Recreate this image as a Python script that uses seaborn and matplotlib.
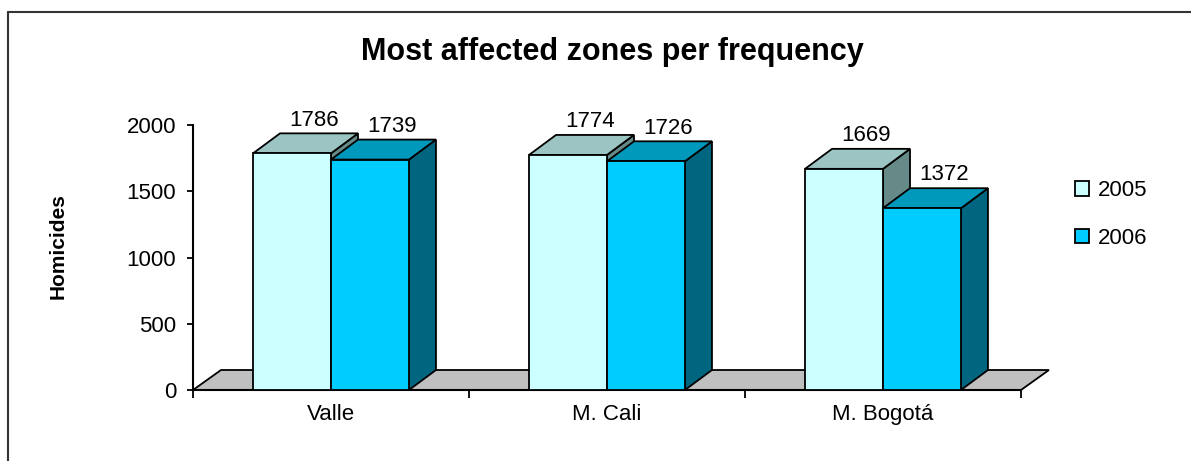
import matplotlib
matplotlib.use("Agg")
import matplotlib.pyplot as plt
import pandas as pd
import seaborn as sns
from matplotlib.patches import Polygon, Patch
from matplotlib.lines import Line2D

# ---------------- data ----------------
zones = ["Valle", "M. Cali", "M. Bogotá"]
years = ["2005", "2006"]
homicides_2005 = [1786, 1774, 1669]
homicides_2006 = [1739, 1726, 1372]
y_ticks = [0, 500, 1000, 1500, 2000]

front_colors = {"2005": "#CCFFFF", "2006": "#00CCFF"}
top_colors = {"2005": "#9BC4C2", "2006": "#0099BB"}
side_colors = {"2005": "#668A88", "2006": "#006680"}

df = pd.DataFrame({
    "zone": zones * 2,
    "year": [years[0]] * len(zones) + [years[1]] * len(zones),
    "homicides": homicides_2005 + homicides_2006,
})

sns.set_style("white")
plt.rcParams["font.family"] = ["Liberation Sans", "DejaVu Sans"]
for k in ["text.color", "xtick.color", "ytick.color", "axes.labelcolor"]:
    plt.rcParams[k] = "black"

W, H = 1191, 461
fig = plt.figure(figsize=(W / 100, H / 100), dpi=100)
ax_l, ax_r, ax_t, ax_b = 193, 1021, 125, 390
ax = fig.add_axes([ax_l / W, 1 - ax_b / H, (ax_r - ax_l) / W, (ax_b - ax_t) / H])

sns.barplot(data=df, x="zone", y="homicides", hue="year", palette=front_colors,
            width=0.565, edgecolor="black", linewidth=1.3, saturation=1,
            ax=ax, legend=False)

ax.set_xlim(-0.5, 2.5)
ax.set_ylim(0, 2000)
ax.patch.set_visible(False)

sx = (ax_r - ax_l) / 3.0        # px per x unit
sy = (ax_b - ax_t) / 2000.0     # px per y unit
LW = 1.3

# floor
fdx, fdy = 28 / sx, 20 / sy
floor = Polygon([(-0.5, 0), (2.5, 0), (2.5 + fdx, fdy), (-0.5 + fdx, fdy)],
                closed=True, fc="#C0C0C0", ec="black", lw=LW, zorder=1, clip_on=False)
ax.add_patch(floor)

# 3D faces
bdx, bdy = 27 / sx, 20 / sy
lab_dx = 22 / sx
for ci, cont in enumerate(ax.containers):
    yr = years[ci]
    for bar in cont:
        bar.set_zorder(3 + 2 * ci)
        bar.set_clip_on(False)
        x0, w, h = bar.get_x(), bar.get_width(), bar.get_height()
        top = Polygon([(x0, h), (x0 + w, h), (x0 + w + bdx, h + bdy), (x0 + bdx, h + bdy)],
                      closed=True, fc=top_colors[yr], ec="black", lw=LW,
                      zorder=2 + 2 * ci, clip_on=False)
        side = Polygon([(x0 + w, 0), (x0 + w + bdx, bdy), (x0 + w + bdx, h + bdy), (x0 + w, h)],
                       closed=True, fc=side_colors[yr], ec="black", lw=LW,
                       zorder=2 + 2 * ci, clip_on=False)
        ax.add_patch(side)
        ax.add_patch(top)
        ax.annotate(f"{int(round(h))}", xy=(x0 + w / 2 + lab_dx, h + bdy),
                    xytext=(0, 2), textcoords="offset points",
                    ha="center", va="bottom", fontsize=16, zorder=10,
                    annotation_clip=False)

# axes styling
for s in ["top", "right"]:
    ax.spines[s].set_visible(False)
for s in ["left", "bottom"]:
    ax.spines[s].set_color("black")
    ax.spines[s].set_linewidth(1.5)
    ax.spines[s].set_zorder(2)

ax.set_yticks(y_ticks)
ax.set_yticklabels([str(v) for v in y_ticks])
ax.tick_params(axis="y", left=True, length=4, width=1.3, pad=8, labelsize=16, direction="out")

ax.set_xticks([-0.5, 0.5, 1.5, 2.5])
ax.set_xticklabels([])
ax.set_xticks([0, 1, 2], minor=True)
ax.set_xticklabels(zones, minor=True)
ax.tick_params(axis="x", which="major", bottom=True, length=6, width=1.3, direction="out")
ax.tick_params(axis="x", which="minor", bottom=True, length=0, pad=10, labelsize=16)
ax.set_xlabel("")
ax.set_ylabel("")

# title and y-label
fig.text(612 / W, 1 - 60 / H, "Most affected zones per frequency", ha="center",
         va="baseline", fontsize=22, fontweight="bold")
fig.text(58 / W, 1 - 246 / H, "Homicides", rotation=90, ha="center", va="center",
         fontsize=15, fontweight="bold")

# legend
handles = [Patch(fc=front_colors[y], ec="black", lw=1.3) for y in years]
fig.legend(handles, years, loc="center left", bbox_to_anchor=(1075 / W, 1 - 214.5 / H),
           frameon=False, fontsize=16, handlelength=0.63, handleheight=0.63,
           handletextpad=0.4, labelspacing=1.2, borderpad=0, borderaxespad=0)

# chart border
fig.add_artist(Line2D([8 / W, 1], [1 - 12.5 / H] * 2, transform=fig.transFigure,
                      color="#333333", lw=1.5))
fig.add_artist(Line2D([8 / W] * 2, [0, 1 - 12.5 / H], transform=fig.transFigure,
                      color="#333333", lw=1.5))

fig.savefig("out.png", dpi=100)
